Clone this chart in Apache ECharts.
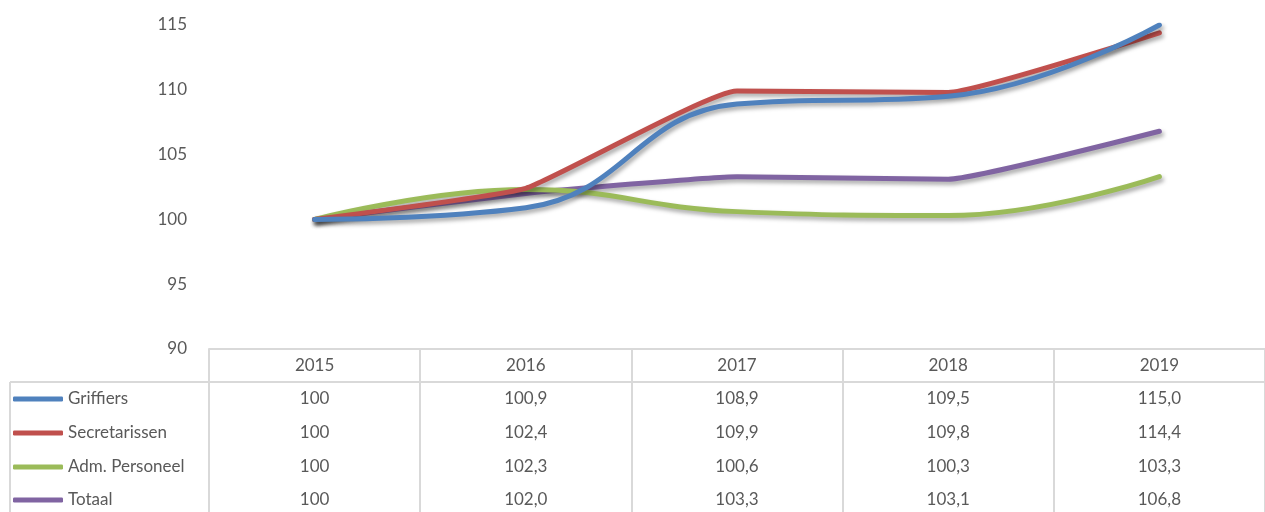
<!DOCTYPE html>
<html>
<head>
<meta charset="utf-8">
<script src="https://cdn.jsdelivr.net/npm/echarts@6/dist/echarts.min.js"></script>
<style>
html,body{margin:0;padding:0;background:#fff;}
#chart{width:1265px;height:512px;}
</style>
</head>
<body>
<div id="chart"></div>
<script>
const years = ['2015', '2016', '2017', '2018', '2019'];
const seriesNames = ['Griffiers', 'Secretarissen', 'Adm. Personeel', 'Totaal'];
const griffiers = [100, 100.9, 108.9, 109.5, 115.0];
const secretarissen = [100, 102.4, 109.9, 109.8, 114.4];
const admPersoneel = [100, 102.3, 100.6, 100.3, 103.3];
const totaal = [100, 102.0, 103.3, 103.1, 106.8];
const yTicks = [90, 95, 100, 105, 110, 115];

const colors = ['#4f81bd', '#c0504d', '#9bbb59', '#8064a2'];
const smoothness = [0.45, 0.12, 0.45, 0.12];
const allData = [griffiers, secretarissen, admPersoneel, totaal];
const FONT = 'Lato, "Open Sans", sans-serif';
const TXT = '#595959';
const GRID_LINE = '#d9d9d9';

const gridBottomY = 349;
const rowCenters = [399, 433, 467, 500];

function fmt(v, i) {
  return i === 0 ? String(v) : v.toFixed(1).replace('.', ',');
}

const chart = echarts.init(document.getElementById('chart'));

const xAxes = [
  {
    type: 'category', data: years, boundaryGap: true, position: 'bottom',
    axisLine: { show: true, lineStyle: { color: GRID_LINE, width: 2 } },
    axisTick: { show: true, interval: 0, length: 512 - gridBottomY, inside: false,
      lineStyle: { color: GRID_LINE, width: 2 } },
    axisLabel: { interval: 0, margin: 17, verticalAlign: 'middle', color: TXT, fontSize: 17, fontFamily: FONT },
    splitLine: { show: false }
  },
  {
    type: 'category', data: years, boundaryGap: true, position: 'bottom', offset: 33,
    axisLine: { show: true, lineStyle: { color: GRID_LINE, width: 2 } },
    axisTick: { show: false }, axisLabel: { show: false }, splitLine: { show: false }
  }
];
allData.forEach((arr, k) => {
  xAxes.push({
    type: 'category', data: arr.map(fmt), boundaryGap: true, position: 'bottom', offset: 0,
    axisLine: { show: false }, axisTick: { show: false }, splitLine: { show: false },
    axisLabel: { interval: 0, margin: rowCenters[k] - gridBottomY, verticalAlign: 'middle',
      color: TXT, fontSize: 17, fontFamily: FONT }
  });
});

const legends = seriesNames.map((name, k) => ({
  data: [name],
  orient: 'vertical',
  left: 13,
  top: rowCenters[k] - 9,
  padding: 0,
  icon: 'roundRect',
  itemWidth: 50,
  itemHeight: 5,
  textStyle: { color: TXT, fontSize: 17, fontFamily: FONT, lineHeight: 18 }
}));

const series = seriesNames.map((name, k) => ({
  name: name,
  type: 'line',
  xAxisIndex: 0,
  data: allData[k],
  smooth: smoothness[k],
  showSymbol: false,
  symbol: 'none',
  color: colors[k],
  lineStyle: { width: 5, color: colors[k], cap: 'round', join: 'round',
    shadowColor: 'rgba(0,0,0,0.35)', shadowBlur: 4, shadowOffsetX: 2, shadowOffsetY: 3 },
  z: 10 - k
}));

chart.setOption({
  animation: false,
  backgroundColor: '#ffffff',
  grid: { left: 209, right: 0, top: 25, bottom: 512 - gridBottomY, containLabel: false },
  legend: legends,
  xAxis: xAxes,
  yAxis: {
    type: 'value', min: yTicks[0], max: yTicks[yTicks.length - 1], interval: 5,
    axisLine: { show: false }, axisTick: { show: false }, splitLine: { show: false },
    axisLabel: { margin: 22, color: TXT, fontSize: 17, fontFamily: FONT }
  },
  graphic: [
    { type: 'line', shape: { x1: 10, y1: 382, x2: 209, y2: 382 }, style: { stroke: GRID_LINE, lineWidth: 2 } },
    { type: 'line', shape: { x1: 10, y1: 382, x2: 10, y2: 512 }, style: { stroke: GRID_LINE, lineWidth: 2 } }
  ],
  series: series
});
</script>
</body>
</html>
